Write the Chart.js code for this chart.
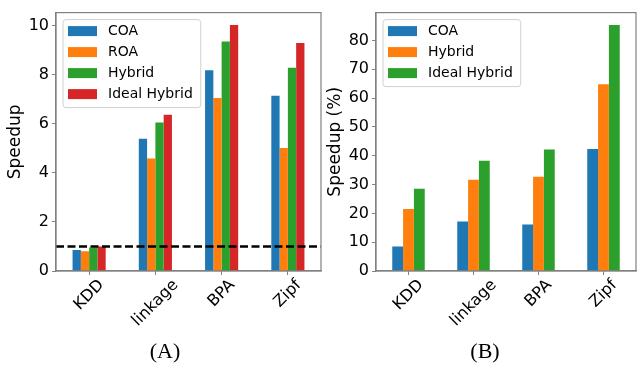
<!DOCTYPE html>
<html>
<head>
<meta charset="utf-8">
<script src="https://cdn.jsdelivr.net/npm/chart.js@4.4.1/dist/chart.umd.min.js"></script>
<style>
  body { margin: 0; background: #fff; }
  #wrap { position: relative; width: 637px; height: 371px; }
  canvas { position: absolute; top: 0; }
</style>
</head>
<body>
<div id="wrap">
  <canvas id="chartA" width="330" height="371" style="left:0"></canvas>
  <canvas id="chartB" width="317" height="371" style="left:320px"></canvas>
</div>
<script>
// Speedup per dataset, two panels
const categories = ['KDD', 'linkage', 'BPA', 'Zipf'];

// (A) speedup
const coaA = [0.86, 5.39, 8.18, 7.14];
const roaA = [0.80, 4.59, 7.05, 5.01];
const hybridA = [0.96, 6.05, 9.35, 8.28];
const idealA = [1.00, 6.37, 10.03, 9.29];
const baselineA = 1;

// (B) speedup (%)
const coaB = [8.5, 17.2, 16.1, 42.3];
const hybridB = [21.5, 31.7, 32.7, 64.8];
const idealB = [28.5, 38.3, 42.2, 85.4];

const BLUE = '#1f77b4', ORANGE = '#ff7f0e', GREEN = '#2ca02c', RED = '#d62728';
const FONT = 'DejaVu Sans';
const SPINE = '#808080';

// frame, in-axes legend, rotated x labels, panel caption, optional dashed baseline
const panelPlugin = {
  id: 'panel',
  afterDatasetsDraw(chart, args, opts) {
    const ctx = chart.ctx;
    const { left, right, top, bottom } = chart.chartArea;
    ctx.save();

    if (opts.baseline != null) {
      const y = chart.scales.y.getPixelForValue(opts.baseline);
      ctx.strokeStyle = '#000';
      ctx.lineWidth = 2.5;
      ctx.setLineDash([8, 3.5]);
      ctx.beginPath();
      ctx.moveTo(left, y);
      ctx.lineTo(right, y);
      ctx.stroke();
      ctx.setLineDash([]);
    }

    ctx.strokeStyle = SPINE;
    ctx.lineWidth = 1.2;
    ctx.strokeRect(left, top, right - left, bottom - top);

    // legend
    const sets = chart.data.datasets;
    ctx.font = '14px ' + FONT;
    const textW = Math.max(...sets.map(d => ctx.measureText(d.label).width));
    const lx = left + 7, ly = top + 7;
    const lw = 45 + textW + 8, lh = sets.length * 21 + 4;
    ctx.fillStyle = 'rgba(255,255,255,0.85)';
    ctx.strokeStyle = '#d0d0d0';
    ctx.lineWidth = 1;
    ctx.beginPath();
    ctx.roundRect(lx, ly, lw, lh, 3);
    ctx.fill();
    ctx.stroke();
    ctx.textBaseline = 'middle';
    ctx.textAlign = 'left';
    sets.forEach((d, i) => {
      const cy = ly + 11.5 + i * 21;
      ctx.fillStyle = d.backgroundColor;
      ctx.fillRect(lx + 5, cy - 5, 29, 10);
      ctx.fillStyle = '#000';
      ctx.fillText(d.label, lx + 45, cy + 0.5);
    });

    // rotated category labels, centred under ticks
    ctx.font = '16px ' + FONT;
    ctx.textAlign = 'center';
    chart.data.labels.forEach((lab, i) => {
      const x = chart.scales.x.getPixelForValue(i);
      const w = ctx.measureText(lab).width;
      const half = (w + 16) * Math.SQRT1_2 / 2;
      ctx.save();
      ctx.translate(x, bottom + 6 + half);
      ctx.rotate(-Math.PI / 4);
      ctx.fillText(lab, 0, 0);
      ctx.restore();
    });

    // caption
    ctx.font = '22px "Liberation Serif"';
    ctx.fillStyle = '#000';
    ctx.fillText(opts.caption, opts.captionX, 352);
    ctx.restore();
  }
};

function makeChart(id, datasets, yTitle, step, padRight, panelOpts) {
  const maxVal = Math.max(...datasets.flatMap(d => d.data));
  return new Chart(document.getElementById(id), {
    type: 'bar',
    data: {
      labels: categories,
      datasets: datasets.map(d => ({
        ...d,
        categoryPercentage: 0.5,
        barPercentage: 1,
        borderWidth: 0
      }))
    },
    options: {
      responsive: false,
      animation: false,
      layout: { padding: { top: 7, right: padRight, left: 0, bottom: 0 } },
      plugins: {
        legend: { display: false },
        tooltip: { enabled: false },
        panel: panelOpts
      },
      scales: {
        x: {
          offset: true,
          grid: { offset: false, drawOnChartArea: false, tickLength: 4, color: SPINE },
          border: { color: SPINE, width: 1.2 },
          ticks: { display: false },
          afterFit: (s) => { s.height = 100; }
        },
        y: {
          min: 0,
          max: maxVal * 1.05,
          grid: { drawOnChartArea: false, tickLength: 4, color: SPINE },
          border: { color: SPINE, width: 1.2 },
          ticks: {
            stepSize: step,
            includeBounds: false,
            padding: 3,
            color: '#000',
            font: { family: FONT, size: 16 }
          },
          title: {
            display: true,
            text: yTitle,
            color: '#000',
            font: { family: FONT, size: 17 },
            padding: { top: 5, bottom: 0 }
          },
          afterFit: (s) => { s.width = 56; }
        }
      }
    },
    plugins: [panelPlugin]
  });
}

document.addEventListener('DOMContentLoaded', () => {
  makeChart('chartA', [
    { label: 'COA', data: coaA, backgroundColor: BLUE },
    { label: 'ROA', data: roaA, backgroundColor: ORANGE },
    { label: 'Hybrid', data: hybridA, backgroundColor: GREEN },
    { label: 'Ideal Hybrid', data: idealA, backgroundColor: RED }
  ], 'Speedup', 2, 9, { baseline: baselineA, caption: '(A)', captionX: 165 });

  makeChart('chartB', [
    { label: 'COA', data: coaB, backgroundColor: BLUE },
    { label: 'Hybrid', data: hybridB, backgroundColor: ORANGE },
    { label: 'Ideal Hybrid', data: idealB, backgroundColor: GREEN }
  ], 'Speedup (%)', 10, 1, { baseline: null, caption: '(B)', captionX: 165 });
});
</script>
</body>
</html>
